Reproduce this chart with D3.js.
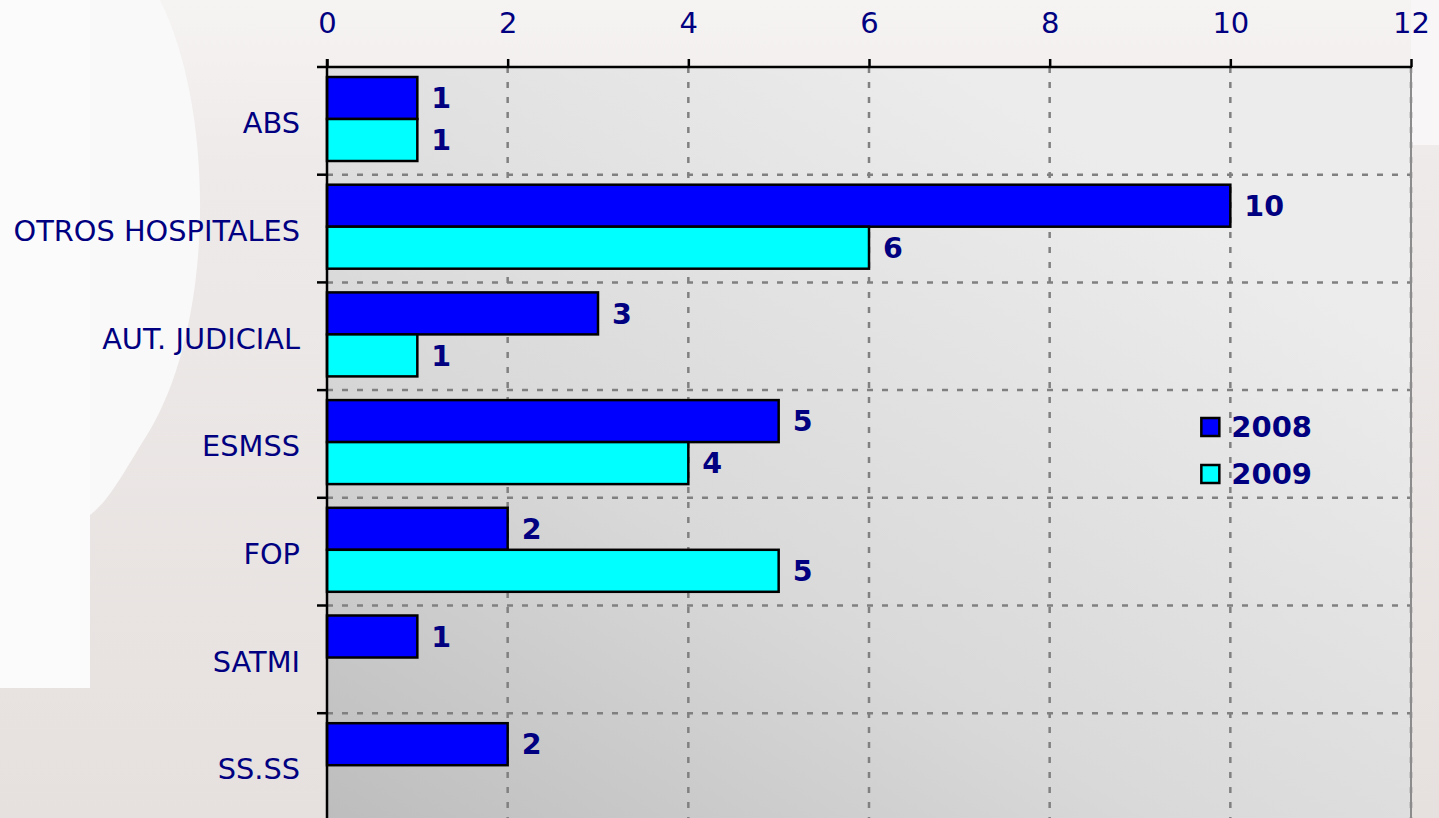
<!DOCTYPE html>
<html>
<head>
<meta charset="utf-8">
<script src="https://cdn.jsdelivr.net/npm/d3@7"></script>
<style>
  html, body { margin: 0; padding: 0; overflow: hidden; background: #e8e3e1; }
  svg { display: block; font-family: "DejaVu Sans", Verdana, sans-serif; }
</style>
</head>
<body>
<svg id="chart" width="1439" height="818"></svg>
<script>
// data
const categories = ["ABS", "OTROS HOSPITALES", "AUT. JUDICIAL", "ESMSS", "FOP", "SATMI", "SS.SS"];
const seriesNames = ["2008", "2009"];
const values2008 = [1, 10, 3, 5, 2, 1, 2];
const values2009 = [1, 6, 1, 4, 5, null, null];
const xTicks = [0, 2, 4, 6, 8, 10, 12];
const seriesColors = ["#0000ff", "#00ffff"];

const svg = d3.select("#chart"),
  margin = {top: 67, left: 327, right: 28},
  width = +svg.attr("width") - margin.left - margin.right,
  bandH = 107.7,
  height = bandH * categories.length;

const navy = "#000080";

// background + watermark
const defs = svg.append("defs");
const bgGrad = defs.append("linearGradient").attr("id", "bg")
  .attr("x1", 0).attr("y1", 0).attr("x2", 0).attr("y2", 1);
bgGrad.append("stop").attr("offset", 0).attr("stop-color", "#f6f3f3");
bgGrad.append("stop").attr("offset", 0.2).attr("stop-color", "#eeeae9");
bgGrad.append("stop").attr("offset", 1).attr("stop-color", "#e6e1df");
svg.append("rect").attr("width", 1439).attr("height", 818).attr("fill", "url(#bg)");

// faint "P" shape behind the chart
svg.append("path")
  .attr("d", "M0,0 L90,0 L90,688 L0,688 Z")
  .attr("fill", "#fcfbfb");
svg.append("path")
  .attr("d", "M90,0 L160,0 C215,110 215,320 150,430 C125,470 110,500 90,515 Z")
  .attr("fill", "#faf9f9");
svg.append("rect").attr("x", 1411).attr("y", 0).attr("width", 28).attr("height", 145)
  .attr("fill", "#f8f6f6");

const plotGrad = defs.append("linearGradient").attr("id", "plotbg")
  .attr("x1", 0).attr("y1", 1).attr("x2", 0.75).attr("y2", 0.15);
plotGrad.append("stop").attr("offset", 0).attr("stop-color", "#bdbdbd");
plotGrad.append("stop").attr("offset", 0.45).attr("stop-color", "#d9d9d9");
plotGrad.append("stop").attr("offset", 1).attr("stop-color", "#ececec");

const g = svg.append("g").attr("transform", "translate(" + margin.left + "," + margin.top + ")");

const x = d3.scaleLinear().domain([0, 12]).range([0, width]);
const y = d3.scaleBand().domain(categories).range([0, height]);
const ySeries = d3.scaleBand().domain(seriesNames).range([10, 94]);

g.append("rect")
  .attr("width", width).attr("height", height)
  .attr("fill", "url(#plotbg)");

// grid
g.append("g").selectAll("line")
  .data(xTicks.slice(1))
  .join("line")
  .attr("x1", d => x(d)).attr("x2", d => x(d))
  .attr("y1", 0).attr("y2", height)
  .attr("stroke", "#808080").attr("stroke-width", 2.5)
  .attr("stroke-dasharray", "6,9");

g.append("g").selectAll("line")
  .data(categories.slice(1))
  .join("line")
  .attr("x1", 0).attr("x2", width)
  .attr("y1", d => y(d)).attr("y2", d => y(d))
  .attr("stroke", "#808080").attr("stroke-width", 2.5)
  .attr("stroke-dasharray", "6,9");

g.append("line")
  .attr("x1", x(12)).attr("x2", x(12)).attr("y1", 0).attr("y2", height)
  .attr("stroke", "#8c8c8c").attr("stroke-width", 2);

// bars
const rows = categories.map((c, i) => ({cat: c, vals: [values2008[i], values2009[i]]}));

const groups = g.append("g").selectAll("g")
  .data(rows)
  .join("g")
  .attr("transform", d => "translate(0," + y(d.cat) + ")");

const cells = groups.selectAll("g")
  .data(d => d.vals.map((v, k) => ({key: seriesNames[k], v: v, color: seriesColors[k]})).filter(d => d.v != null))
  .join("g");

cells.append("rect")
  .attr("x", 0)
  .attr("y", d => ySeries(d.key))
  .attr("width", d => x(d.v))
  .attr("height", ySeries.bandwidth())
  .attr("fill", d => d.color)
  .attr("stroke", "#000").attr("stroke-width", 2.5);

cells.append("text")
  .attr("x", d => x(d.v) + 14)
  .attr("y", d => ySeries(d.key) + ySeries.bandwidth() / 2)
  .attr("dy", "0.36em")
  .attr("fill", navy)
  .attr("font-size", 28.5)
  .attr("font-weight", "bold")
  .text(d => d.v);

// top axis
const xAxis = g.append("g")
  .call(d3.axisTop(x).tickValues(xTicks).tickSize(8).tickPadding(26).tickSizeOuter(0));
xAxis.select(".domain").remove();
xAxis.selectAll(".tick line").attr("stroke", "#000").attr("stroke-width", 2.5);
xAxis.selectAll("text").attr("fill", navy).attr("font-size", 29)
  .attr("font-family", "DejaVu Sans, Verdana, sans-serif");

g.append("line")
  .attr("x1", -10).attr("x2", width + 1).attr("y1", 0).attr("y2", 0)
  .attr("stroke", "#000").attr("stroke-width", 2.5);

// left axis
g.append("line")
  .attr("x1", 0).attr("x2", 0).attr("y1", -8).attr("y2", height)
  .attr("stroke", "#000").attr("stroke-width", 2.5);

g.append("g").selectAll("line")
  .data(categories.slice(1))
  .join("line")
  .attr("x1", -10).attr("x2", 0)
  .attr("y1", d => y(d)).attr("y2", d => y(d))
  .attr("stroke", "#000").attr("stroke-width", 2.5);

g.append("g").selectAll("text")
  .data(categories)
  .join("text")
  .attr("x", -27)
  .attr("y", d => y(d) + y.bandwidth() / 2)
  .attr("dy", "0.43em")
  .attr("text-anchor", "end")
  .attr("fill", navy)
  .attr("font-size", 28.8)
  .text(d => d);

// legend
const legend = g.append("g").attr("transform", "translate(" + (x(10) - 29) + ",351)");
const li = legend.selectAll("g")
  .data(seriesNames)
  .join("g")
  .attr("transform", (d, i) => "translate(0," + i * 47 + ")");
li.append("rect")
  .attr("width", 18).attr("height", 18)
  .attr("fill", (d, i) => seriesColors[i])
  .attr("stroke", "#000").attr("stroke-width", 2.5);
li.append("text")
  .attr("x", 30).attr("y", 9).attr("dy", "0.36em")
  .attr("fill", navy)
  .attr("font-size", 29)
  .attr("font-weight", "bold")
  .text(d => d);
</script>
</body>
</html>
